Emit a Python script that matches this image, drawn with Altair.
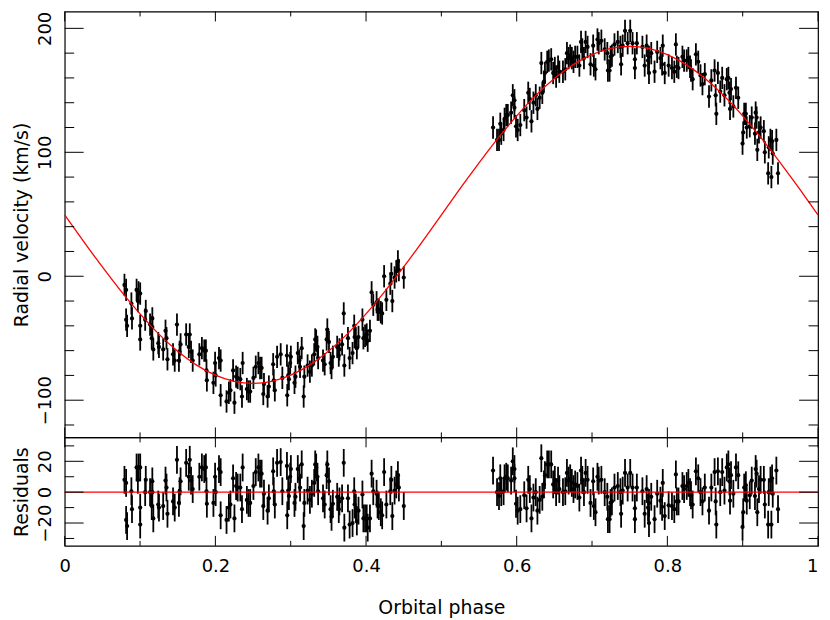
import altair as alt
import pandas as pd

# ---------------- data ----------------
phase = [
    0.0793, 0.0815, 0.0815, 0.0828, 0.0885, 0.0893, 0.0954, 0.0971, 0.0980, 0.1002,
    0.1002, 0.1002, 0.1068, 0.1076, 0.1133, 0.1155, 0.1163, 0.1176, 0.1163, 0.1242,
    0.1251, 0.1307, 0.1338, 0.1351, 0.1364, 0.1438, 0.1460, 0.1490, 0.1516, 0.1525,
    0.1538, 0.1612, 0.1647, 0.1660, 0.1677, 0.1699, 0.1787, 0.1821, 0.1852, 0.1874,
    0.1882, 0.1887, 0.1974, 0.1996, 0.2004, 0.2048, 0.2070, 0.2070, 0.2148, 0.2179,
    0.2200, 0.2235, 0.2253, 0.2275, 0.2296, 0.2331, 0.2353, 0.2362, 0.2418, 0.2440,
    0.2462, 0.2505, 0.2536, 0.2571, 0.2593, 0.2614, 0.2636, 0.2645,
    0.2693, 0.2710, 0.2767, 0.2775, 0.2789, 0.2819, 0.2867, 0.2889, 0.2950, 0.2954,
    0.2967, 0.2976, 0.2993, 0.3002, 0.3050, 0.3063, 0.3094, 0.3115, 0.3124, 0.3146,
    0.3172, 0.3181, 0.3224, 0.3255, 0.3281, 0.3312, 0.3325, 0.3338, 0.3355, 0.3364,
    0.3429, 0.3451, 0.3477, 0.3486, 0.3508, 0.3529, 0.3542, 0.3560, 0.3617, 0.3638,
    0.3647, 0.3682, 0.3704, 0.3712, 0.3760, 0.3782, 0.3821, 0.3843, 0.3848, 0.3865,
    0.3878, 0.3900, 0.3952, 0.3965, 0.3987, 0.4009, 0.4022, 0.4052, 0.4074, 0.4096,
    0.4140, 0.4153, 0.4170, 0.4196, 0.4214, 0.4240, 0.4270, 0.4322, 0.4336, 0.4349,
    0.4379, 0.4401, 0.4423, 0.4436, 0.4501,
    0.5686, 0.5739, 0.5765, 0.5782, 0.5795, 0.5826, 0.5839, 0.5861, 0.5882, 0.5926,
    0.5948, 0.5970, 0.5970, 0.5991, 0.6013, 0.6048, 0.6100, 0.6131, 0.6153, 0.6174,
    0.6196, 0.6222, 0.6253, 0.6275, 0.6305, 0.6327, 0.6340, 0.6362, 0.6375, 0.6405,
    0.6427, 0.6458, 0.6484, 0.6506, 0.6523, 0.6549, 0.6566, 0.6614, 0.6645, 0.6667,
    0.6689, 0.6710, 0.6732, 0.6754, 0.6776, 0.6806, 0.6832, 0.6854, 0.6871, 0.6893,
    0.6915, 0.6941, 0.6980, 0.7015, 0.7024, 0.7046, 0.7072, 0.7089, 0.7124, 0.7168,
    0.7203, 0.7211, 0.7233, 0.7246, 0.7264, 0.7298, 0.7342, 0.7377, 0.7386, 0.7407,
    0.7438, 0.7473, 0.7507, 0.7538, 0.7569, 0.7569, 0.7595,
    0.7669, 0.7699, 0.7725, 0.7743, 0.7756, 0.7756, 0.7786, 0.7830, 0.7865, 0.7908,
    0.7930, 0.7939, 0.7965, 0.8017, 0.8061, 0.8092, 0.8113, 0.8126, 0.8148, 0.8200,
    0.8222, 0.8257, 0.8279, 0.8301, 0.8314, 0.8336, 0.8379, 0.8410, 0.8440, 0.8466,
    0.8497, 0.8553, 0.8584, 0.8627, 0.8641, 0.8650, 0.8671, 0.8702, 0.8728, 0.8758,
    0.8789, 0.8810, 0.8824, 0.8832, 0.8845, 0.8876, 0.8911, 0.8941, 0.8998, 0.9007,
    0.9020, 0.9042, 0.9054, 0.9094, 0.9120, 0.9163, 0.9172, 0.9185, 0.9194, 0.9216,
    0.9238, 0.9281, 0.9294, 0.9338, 0.9346, 0.9368, 0.9381, 0.9390, 0.9399, 0.9447,
    0.9469,
]

rv = [
    -7, -11, -35, -40, -22, -34, -11, -20, -13, -14,
    -40, -51, -35, -28, -39, -50, -34, -59, -41, -54,
    -57, -59, -44, -50, -67, -63, -68, -39, -68, -61,
    -55, -47, -57, -47, -61, -68, -63, -58, -60, -60,
    -76, -84, -86, -70, -80, -66, -68, -96, -101, -94,
    -92, -76, -102, -81, -82, -83, -97, -70, -91, -93,
    -93, -82, -73, -70, -74, -74, -95, -87,
    -97, -89, -71, -84, -92, -65, -63, -82, -64, -96,
    -80, -83, -70, -65, -86, -81, -62, -68, -73, -58,
    -97, -81, -72, -77, -72, -63, -51, -52, -57, -66,
    -68, -71, -51, -43, -53, -70, -74, -65, -57, -64,
    -59, -55, -30, -72, -50, -66, -62, -40, -49, -50,
    -58, -49, -35, -50, -48, -47, -52, -44, -13, -23,
    -21, -27, -27, -29, -30, 0, -19, -6, 2, -20,
    -1, 4, 12, 5, -1,
    120, 110, 110, 123, 115, 118, 127, 130, 130, 132,
    146, 142, 136, 121, 118, 122, 134, 128, 148, 143,
    125, 140, 146, 135, 144, 172, 148, 157, 164, 173,
    174, 175, 164, 168, 161, 169, 165, 165, 167, 180,
    176, 178, 176, 173, 177, 177, 170, 189, 183, 176,
    189, 185, 171, 186, 170, 167, 191, 188, 190, 183,
    180, 166, 166, 177, 178, 187, 189, 185, 171, 186,
    198, 188, 198, 188, 168, 175, 188,
    185, 170, 186, 174, 164, 177, 180, 165, 181, 176,
    171, 186, 164, 170, 168, 165, 187, 169, 168, 177,
    174, 174, 176, 169, 166, 159, 179, 173, 162, 155,
    163, 145, 158, 166, 146, 131, 164, 149, 160, 146,
    159, 160, 148, 135, 151, 137, 152, 144, 107, 116,
    131, 131, 120, 121, 128, 115, 132, 128, 102, 116,
    120, 117, 100, 83, 104, 110, 80, 109, 99, 110,
    83,
]

resid = [
    8, 6, -18, -22, 0.6, -11, 16, 8, 16, 16,
    -10, -21, 0, 8, 0, -9, 7, -17, 0, -8,
    -10, -9, 7.5, 3, -14, -6, -10, 21, -7, 0.6,
    7, 19, 10, 21, 7.5, 2, 10, 16, 15, 16,
    0.6, -7.5, -7, 10, 0, 15, 13, -15, -18, -10,
    -8, 9, -17, 4, 3, 3, -11, 16, -5, -7,
    -7, 4, 13, 16, 12, 12, -9, -1,
    -12, -4, 13.5, 0.6, -8, 19, 19.5, 0.6, 17, -15,
    1, -2.5, 10, 15, -7, -3, 15, 9, 3, 18,
    -22, -7, 1, -5, -1, 6, 18, 16, 10, 0.6,
    -4, -8, 11, 18, 7, -11, -16, -7.5, -3, -11,
    -6, -4, 19, -23, -4, -21, -20, 0.6, -8, -10,
    -19, -12, -1.5, -17, -17, -17, -23, -17, 12, 0.6,
    -1, -8, -9, -13, -15, 13, -8, 0.6, 8, -15.5,
    1, 5, 11, 3, -9,
    14, 0, -2.5, 9, 0, 0.6, 9, 10, 9, 7.5,
    20, 15, 9, -7.5, -12, -11, -2, -10.5, 8, 2,
    -17, -3.5, 0, -12, -5, 22, -3, 5, 11, 18,
    18, 18, 5, 8, 0, 7.5, 2, 0, 0.6, 12.5,
    7.5, 9, 6, 2, 5, 4, -3.5, 14, 8, 0,
    12.5, 8, -7, 7, -9, -13, 10, 7.5, 8, 0,
    -3, -17.5, -17.5, -7, -6, 3, 4, 0, -14, 1,
    12.5, 3, 12.5, 3, -17.5, -10.5, 3,
    0.6, -14, 2, -10, -20, -7, -3, -17.5, -1, -5.5,
    -9.5, 6, -15.5, -8.5, -9, -11, 11.5, -6, -6, 4,
    2, 4, 6, 0, -2, -8, 13.5, 9, 0, -6,
    3, -12, 3, 13, -6, -21, 13.5, 0, 13, 1,
    16, 18, 7, -5.5, 11, -1, 16, 11, -22.5, -13,
    3, 4.5, -5.5, -2, 7.5, -2.5, 15, 12, -13, 2,
    8, 8, -8, -21, 0, 7.5, -21, 9, -1, 14,
    -11,
]

ERR = 9.0  # error bar half-length (km/s)

curve_phase = [
    0.0, 0.025, 0.05, 0.075, 0.1, 0.125, 0.15, 0.175, 0.2, 0.225,
    0.25, 0.275, 0.3, 0.325, 0.35, 0.375, 0.4, 0.425, 0.45, 0.475,
    0.5, 0.525, 0.55, 0.575, 0.6, 0.625, 0.65, 0.675, 0.7, 0.725,
    0.75, 0.775, 0.8, 0.825, 0.85, 0.875, 0.9, 0.925, 0.95, 0.975, 1.0,
]
curve_rv = [
    49.5, 28.2, 7.5, -12.2, -30.4, -46.7, -60.5, -71.7, -79.8, -84.8,
    -86.5, -84.8, -79.8, -71.7, -60.5, -46.7, -30.4, -12.2, 7.5, 28.2,
    49.5, 70.8, 91.5, 111.2, 129.4, 145.7, 159.5, 170.7, 178.8, 183.8,
    185.5, 183.8, 178.8, 170.7, 159.5, 145.7, 129.4, 111.2, 91.5, 70.8, 49.5,
]

x_major = [0.0, 0.2, 0.4, 0.6, 0.8, 1.0]
x_minor = [0.1, 0.3, 0.5, 0.7, 0.9]
rv_major = [-100, 0, 100, 200]
rv_minor = [-120, -80, -60, -40, -20, 20, 40, 60, 80, 120, 140, 160, 180]
res_major = [-20, 0, 20]
res_minor = [-30, -10, 10, 30]

# ---------------- layout / style ----------------
FONT = "DejaVu Sans"
W = 757
H_TOP = 428
H_RES = 109
Y_MAJ, Y_MIN = 19, 9.5
X_MAJ, X_MIN = 10, 5

df = pd.DataFrame({"phase": phase, "rv": rv, "resid": resid})
df["rv_lo"] = df["rv"] - ERR
df["rv_hi"] = df["rv"] + ERR
df["res_lo"] = df["resid"] - ERR
df["res_hi"] = df["resid"] + ERR
dfc = pd.DataFrame({"phase": curve_phase, "rv": curve_rv})

XS = alt.Scale(domain=[0, 1], nice=False, zero=False)
YS_TOP = alt.Scale(domain=[-130, 213.6], nice=False, zero=False)
YS_RES = alt.Scale(domain=[-34.8, 35.5], nice=False, zero=False)

AX_TOP = alt.Axis(
    values=rv_major, title="Radial velocity (km/s)", labelAngle=270,
    labelAlign="center", labelBaseline="alphabetic", labelPadding=14,
    ticks=False, domain=False, grid=False, labelFlush=False,
    labelOverlap=False, titlePadding=5,
)
AX_RES = alt.Axis(
    values=res_major, title="Residuals", labelAngle=270,
    labelAlign="center", labelBaseline="alphabetic", labelPadding=14,
    ticks=False, domain=False, grid=False, labelFlush=False,
    labelOverlap=False, titlePadding=5,
)
AX_X = alt.Axis(
    values=x_major, format="~g", title="Orbital phase", labelPadding=12,
    titlePadding=23, ticks=False, domain=False, grid=False,
    labelFlush=False, labelOverlap=False,
    labelAlign=alt.condition("datum.value == 1", alt.value("right"), alt.value("center")),
)


def x_top(f):
    return alt.X(f, type="quantitative", scale=XS, axis=None)


def x_bot(f):
    return alt.X(f, type="quantitative", scale=XS, axis=AX_X)


def y_top(f):
    return alt.Y(f, type="quantitative", scale=YS_TOP, axis=AX_TOP)


def y_res(f):
    return alt.Y(f, type="quantitative", scale=YS_RES, axis=AX_RES)


def y_ticks(values, field, yfn, length):
    d = pd.DataFrame({field: values})
    base = alt.Chart(d).mark_rule(color="black", strokeWidth=1)
    return [
        base.encode(y=yfn(field), x=alt.value(0), x2=alt.value(length)),
        base.encode(y=yfn(field), x=alt.value(W), x2=alt.value(W - length)),
    ]


def x_ticks(values, xfn, h, length):
    d = pd.DataFrame({"phase": values})
    base = alt.Chart(d).mark_rule(color="black", strokeWidth=1)
    return [
        base.encode(x=xfn("phase"), y=alt.value(h), y2=alt.value(h - length)),
        base.encode(x=xfn("phase"), y=alt.value(0), y2=alt.value(length)),
    ]


# ---------------- top panel ----------------
bars_top = alt.Chart(df).mark_rule(color="black", strokeWidth=1.8).encode(
    x=x_top("phase"), y=y_top("rv_lo"), y2="rv_hi"
)
pts_top = alt.Chart(df).mark_circle(color="black", size=18, opacity=1).encode(
    x=x_top("phase"), y=y_top("rv")
)
curve = alt.Chart(dfc).mark_line(color="#ff0000", strokeWidth=1.3, interpolate="natural").encode(
    x=x_top("phase"), y=y_top("rv")
)
top = alt.layer(
    bars_top, pts_top, curve,
    *y_ticks(rv_major, "rv", y_top, Y_MAJ),
    *y_ticks(rv_minor, "rv", y_top, Y_MIN),
    *x_ticks(x_major, x_top, H_TOP, X_MAJ),
    *x_ticks(x_minor, x_top, H_TOP, X_MIN),
).properties(width=W, height=H_TOP)

# ---------------- residual panel ----------------
bars_res = alt.Chart(df).mark_rule(color="black", strokeWidth=1.8).encode(
    x=x_bot("phase"), y=y_res("res_lo"), y2="res_hi"
)
pts_res = alt.Chart(df).mark_circle(color="black", size=18, opacity=1).encode(
    x=x_bot("phase"), y=y_res("resid")
)
zero = alt.Chart(pd.DataFrame({"resid": [0]})).mark_rule(color="#ff0000", strokeWidth=1.3).encode(
    y=y_res("resid"), x=alt.value(0), x2=alt.value(W)
)
bottom = alt.layer(
    bars_res, pts_res, zero,
    *y_ticks(res_major, "resid", y_res, Y_MAJ),
    *y_ticks(res_minor, "resid", y_res, Y_MIN),
    *x_ticks(x_major, x_bot, H_RES, X_MAJ),
    *x_ticks(x_minor, x_bot, H_RES, X_MIN),
).properties(width=W, height=H_RES)

chart = (
    alt.vconcat(top, bottom, spacing=0, bounds="flush")
    .properties(padding={"left": 4, "top": 0, "right": 0, "bottom": 0}, background="white")
    .configure_view(stroke="black", strokeWidth=1.2)
    .configure_axis(
        labelFont=FONT, titleFont=FONT, labelFontSize=18, titleFontSize=19,
        titleFontWeight="normal", labelColor="black", titleColor="black",
    )
)

chart.save("out.html", embed_options={"renderer": "svg", "actions": False})
